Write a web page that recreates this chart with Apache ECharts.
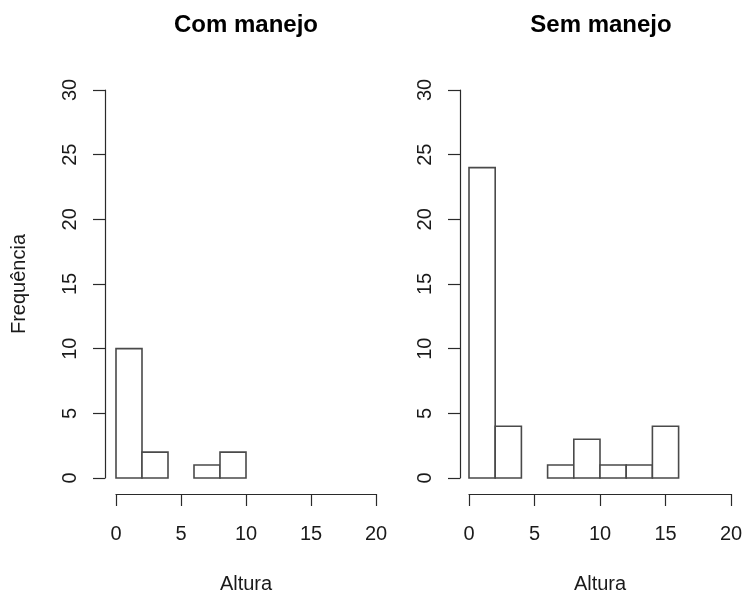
<!DOCTYPE html>
<html>
<head>
<meta charset="utf-8">
<script src="https://cdn.jsdelivr.net/npm/echarts@6/dist/echarts.min.js"></script>
<style>
html,body{margin:0;padding:0;background:#fff;}
#main{width:746px;height:594px;}
</style>
</head>
<body>
<div id="main"></div>
<script>
const binEdges = [0, 2, 4, 6, 8, 10, 12, 14, 16];
const comManejoCounts = [10, 2, 0, 1, 2];
const semManejoCounts = [24, 4, 0, 1, 3, 1, 1, 4];
const panelTitles = ['Com manejo', 'Sem manejo'];
const xAxisName = 'Altura';
const yAxisName = 'Frequência';
const xRange = [0, 20];
const yRange = [0, 30];

const FONT = '"Liberation Sans", Arial, Helvetica, sans-serif';
const TXT = '#1a1a1a';
const LINE = '#2a2a2a';
const BAR_LINE = '#4a4a4a';

function toBins(counts) {
  return counts.map((c, i) => [binEdges[i], binEdges[i + 1], c]);
}

function renderHist(params, api) {
  const x0 = api.value(0), x1 = api.value(1), c = api.value(2);
  if (!c) return null;
  const p0 = api.coord([x0, 0]);
  const p1 = api.coord([x1, c]);
  return {
    type: 'rect',
    shape: { x: p0[0], y: p1[1], width: p1[0] - p0[0], height: p0[1] - p1[1] },
    style: { fill: '#fff', stroke: BAR_LINE, lineWidth: 1.6 }
  };
}

// Panel layout (pixels)
const panels = [
  { plotLeft: 116, plotWidth: 260, yAxisX: 105 },
  { plotLeft: 469, plotWidth: 262, yAxisX: 460 }
];
const plotTop = 90, plotHeight = 388, xAxisY = 494;

const grids = [], xAxes = [], yAxes = [], series = [];
const hiddenX = (g) => ({ type: 'value', gridIndex: g, min: xRange[0], max: xRange[1], show: false });
const hiddenY = (g) => ({ type: 'value', gridIndex: g, min: yRange[0], max: yRange[1], show: false });

panels.forEach((p, k) => {
  const gPlot = grids.length;
  grids.push({ left: p.plotLeft, width: p.plotWidth, top: plotTop, height: plotHeight, containLabel: false, outerBoundsMode: 'none' });
  const gX = grids.length;
  grids.push({ left: p.plotLeft, width: p.plotWidth, top: xAxisY - 50, height: 50, containLabel: false, outerBoundsMode: 'none' });
  const gY = grids.length;
  grids.push({ left: p.yAxisX, width: 20, top: plotTop, height: plotHeight, containLabel: false, outerBoundsMode: 'none' });

  // plot grid: hidden axes used by the bars
  const xiPlot = xAxes.length; xAxes.push(hiddenX(gPlot));
  const yiPlot = yAxes.length; yAxes.push(hiddenY(gPlot));

  // visible x axis
  xAxes.push({
    type: 'value', gridIndex: gX, min: xRange[0], max: xRange[1], interval: 5,
    position: 'bottom',
    name: xAxisName, nameLocation: 'middle', nameGap: 80,
    nameTextStyle: { fontFamily: FONT, fontSize: 20, color: TXT },
    axisLine: { show: true, lineStyle: { color: LINE, width: 1.2 } },
    axisTick: { show: true, length: 12, inside: false, lineStyle: { color: LINE, width: 1.2 } },
    axisLabel: { margin: 30, fontFamily: FONT, fontSize: 20, color: TXT },
    splitLine: { show: false }
  });
  yAxes.push(hiddenY(gX));

  // visible y axis
  xAxes.push(hiddenX(gY));
  yAxes.push({
    type: 'value', gridIndex: gY, min: yRange[0], max: yRange[1], interval: 5,
    position: 'left',
    name: k === 0 ? yAxisName : '', nameLocation: 'middle', nameGap: 76, nameRotate: 90,
    nameTextStyle: { fontFamily: FONT, fontSize: 20, color: TXT },
    axisLine: { show: true, lineStyle: { color: LINE, width: 1.2 } },
    axisTick: { show: true, length: 12, inside: false, lineStyle: { color: LINE, width: 1.2 } },
    axisLabel: { rotate: 90, margin: 25, fontFamily: FONT, fontSize: 20, color: TXT },
    splitLine: { show: false }
  });

  series.push({
    type: 'custom', xAxisIndex: xiPlot, yAxisIndex: yiPlot, renderItem: renderHist,
    encode: { x: [0, 1], y: 2 },
    data: toBins(k === 0 ? comManejoCounts : semManejoCounts)
  });
});

const chart = echarts.init(document.getElementById('main'), null, { renderer: 'canvas' });
chart.setOption({
  backgroundColor: '#fff',
  animation: false,
  title: [
    { text: panelTitles[0], left: 241, top: 8, textAlign: 'center',
      textStyle: { fontFamily: FONT, fontSize: 24, fontWeight: 'bold', color: '#000' } },
    { text: panelTitles[1], left: 596, top: 8, textAlign: 'center',
      textStyle: { fontFamily: FONT, fontSize: 24, fontWeight: 'bold', color: '#000' } }
  ],
  grid: grids,
  xAxis: xAxes,
  yAxis: yAxes,
  series: series
});
</script>
</body>
</html>
